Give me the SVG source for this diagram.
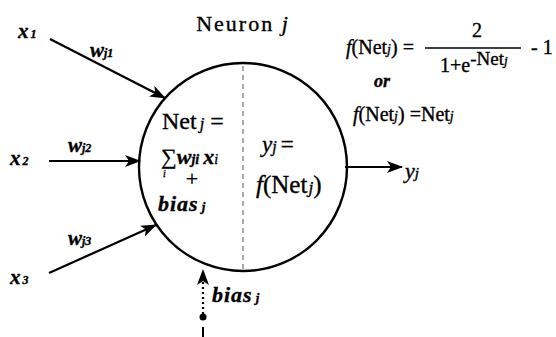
<svg xmlns="http://www.w3.org/2000/svg" width="556" height="337" viewBox="0 0 556 337">
<style>
text{font-family:"Liberation Serif","Times New Roman",serif;fill:#000;stroke:#000;stroke-width:0.35}
.bi{font-weight:bold;font-style:italic}
.it{font-style:italic}
.sub{font-size:70%}
.ln{stroke:#000;stroke-width:2.2;fill:none}
</style>
<defs>
<marker id="ah" markerWidth="16" markerHeight="12" refX="15" refY="6" orient="auto" markerUnits="userSpaceOnUse">
<path d="M0,0 L16,6 L0,12 L4,6 Z" fill="#000"/>
</marker>
</defs>
<rect width="556" height="337" fill="#fff"/>
<g id="neuron">
<circle cx="243" cy="167" r="104" fill="none" stroke="#000" stroke-width="2.4"/>
<line x1="243" y1="66" x2="243" y2="269" stroke="#555" stroke-width="1" stroke-dasharray="5,4"/>
<text x="243" y="31" font-size="22" text-anchor="middle" letter-spacing="2">Neuron <tspan class="it">j</tspan></text>
<text x="162" y="129" font-size="24">Net<tspan class="it sub" dx="3">j</tspan> =</text>
<text x="161" y="164" font-size="22">∑<tspan class="bi" font-size="22">w</tspan><tspan class="bi" font-size="14">ji</tspan><tspan class="bi" font-size="22" dx="4">x</tspan><tspan class="it" font-size="14">i</tspan></text>
<text class="it" x="163" y="177" font-size="10">i</text>
<text x="192" y="186" font-size="22" text-anchor="middle">+</text>
<text class="bi" x="158" y="211" font-size="22" letter-spacing="1">bias<tspan font-size="13" dx="3">j</tspan></text>
<text class="it" x="262" y="152" font-size="23">y<tspan class="sub">j</tspan><tspan font-style="normal" dx="4">=</tspan></text>
<text x="256" y="193" font-size="25"><tspan class="it">f</tspan>(Net<tspan class="it sub" dx="1">j</tspan>)</text>
</g>
<g id="x1"><text class="bi" x="18" y="38" font-size="21">x<tspan font-size="12" dx="2">1</tspan></text></g>
<g id="x2"><text class="bi" x="10" y="165" font-size="21">x<tspan font-size="12" dx="2">2</tspan></text></g>
<g id="x3"><text class="bi" x="10" y="284" font-size="21">x<tspan font-size="12" dx="2">3</tspan></text></g>
<g id="y-out"><text class="it" x="405" y="178" font-size="22">y<tspan class="sub">j</tspan></text></g>
<g id="formula">
<text x="346" y="54" font-size="20"><tspan class="it">f</tspan>(Net<tspan class="it sub">j</tspan>) =</text>
<line x1="425" y1="48" x2="521" y2="48" stroke="#000" stroke-width="1.3"/>
<text x="477" y="37" font-size="20" text-anchor="middle">2</text>
<text x="440" y="72" font-size="20">1+e<tspan dy="-7" font-size="19">-Net<tspan class="it sub">j</tspan></tspan></text>
<text x="531" y="54" font-size="20">- 1</text>
<text class="bi" x="374" y="87" font-size="18">or</text>
<text x="353" y="121" font-size="20"><tspan class="it">f</tspan>(Net<tspan class="it sub">j</tspan>) =Net<tspan class="it sub">j</tspan></text>
</g>
<g id="connectors">
<line class="ln" x1="50" y1="39" x2="165" y2="98" marker-end="url(#ah)"/>
<text class="bi" x="90" y="57" font-size="21">w<tspan font-size="12">j1</tspan></text>
<line class="ln" x1="49" y1="161" x2="140" y2="161" marker-end="url(#ah)"/>
<text class="bi" x="68" y="152" font-size="21">w<tspan font-size="12">j2</tspan></text>
<line class="ln" x1="49" y1="273" x2="156" y2="225" marker-end="url(#ah)"/>
<text class="bi" x="68" y="245" font-size="21">w<tspan font-size="12">j3</tspan></text>
<line class="ln" x1="345" y1="167" x2="402" y2="167" marker-end="url(#ah)"/>
<line x1="203" y1="314" x2="203" y2="270" stroke="#000" stroke-width="2.2" stroke-dasharray="2,3" marker-end="url(#ah)"/>
<circle cx="203" cy="317" r="3.5" fill="#000"/>
<line x1="203" y1="327" x2="203" y2="337" stroke="#000" stroke-width="2"/>
<text class="bi" x="212" y="302" font-size="22" letter-spacing="1">bias<tspan font-size="13" dx="3">j</tspan></text>
</g>
</svg>
